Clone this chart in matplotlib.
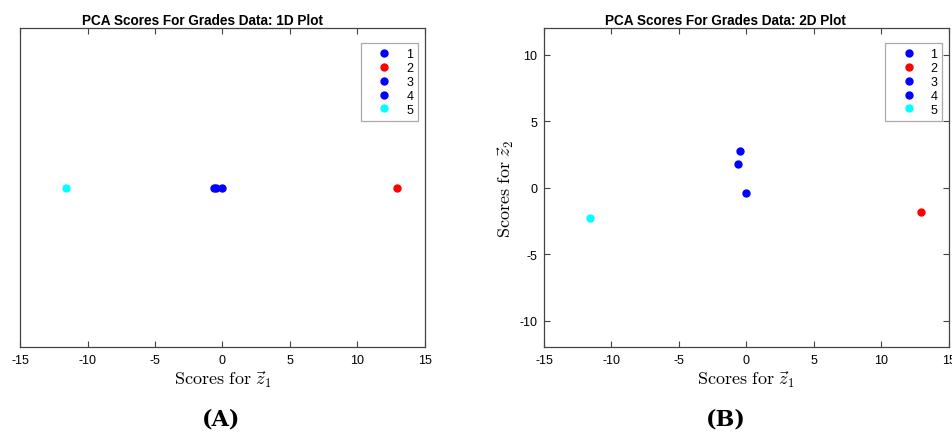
import matplotlib
matplotlib.use("Agg")
import matplotlib.pyplot as plt

# PCA scores
labels = ["1", "2", "3", "4", "5"]
z1 = [-0.62, 12.95, -0.47, 0.0, -11.6]
z2 = [1.75, -1.85, 2.75, -0.4, -2.25]
colors = ["#0000ff", "#ff0000", "#0000ff", "#0000ff", "#00ffff"]
xticks = [-15, -10, -5, 0, 5, 10, 15]
yticks = [-10, -5, 0, 5, 10]

plt.rcParams["font.family"] = ["Liberation Sans", "DejaVu Sans"]
plt.rcParams["mathtext.fontset"] = "cm"

fig = plt.figure(figsize=(9.52, 4.35), dpi=100)
ax1 = fig.add_axes([0.0213, 0.1989, 0.4248, 0.7345])
ax2 = fig.add_axes([0.5714, 0.1989, 0.4254, 0.7345])

spine_col = "#444444"


def style(ax):
    for s in ax.spines.values():
        s.set_color(spine_col)
        s.set_linewidth(0.9)
    ax.tick_params(direction="in", length=4, width=0.8, color=spine_col,
                   labelsize=9, top=True, right=True, pad=5)
    ax.set_xlim(-15, 15)
    ax.set_xticks(xticks)
    ax.set_xticklabels([str(t) for t in xticks])
    ax.set_xlabel(r"$\mathrm{Scores\ for\ }\vec{z}_1$", fontsize=13, labelpad=1)


def legend(ax):
    leg = ax.legend(loc="upper right", bbox_to_anchor=(0.984, 0.952),
                    borderaxespad=0, fontsize=9, labelspacing=0.15,
                    handletextpad=0.3, handlelength=2.9, borderpad=0.4,
                    fancybox=False, framealpha=1, markerfirst=True)
    leg.get_frame().set_edgecolor("#aaaaaa")
    leg.get_frame().set_linewidth(0.9)


# (A) 1D plot
for x, c, lab in zip(z1, colors, labels):
    ax1.plot([x], [0], "o", color=c, markersize=5, label=lab)
ax1.set_ylim(-1, 1)
ax1.set_yticks([])
style(ax1)
ax1.set_title("PCA Scores For Grades Data: 1D Plot", fontsize=9.8,
              fontweight="bold", pad=3, x=0.45)
legend(ax1)

# (B) 2D plot
for x, y, c, lab in zip(z1, z2, colors, labels):
    ax2.plot([x], [y], "o", color=c, markersize=5, label=lab)
ax2.set_ylim(-12, 12)
ax2.set_yticks(yticks)
ax2.set_yticklabels([str(t) for t in yticks])
style(ax2)
ax2.set_ylabel(r"$\mathrm{Scores\ for\ }\vec{z}_2$", fontsize=13, labelpad=2)
ax2.set_title("PCA Scores For Grades Data: 2D Plot", fontsize=9.8,
              fontweight="bold", pad=3, x=0.449)
legend(ax2)

fig.text(221 / 952, 1 - 420 / 435, "(A)", ha="center", va="center",
         fontsize=16, fontweight="bold", family="DejaVu Serif")
fig.text(726 / 952, 1 - 420 / 435, "(B)", ha="center", va="center",
         fontsize=16, fontweight="bold", family="DejaVu Serif")

fig.savefig("out.png", dpi=100)
